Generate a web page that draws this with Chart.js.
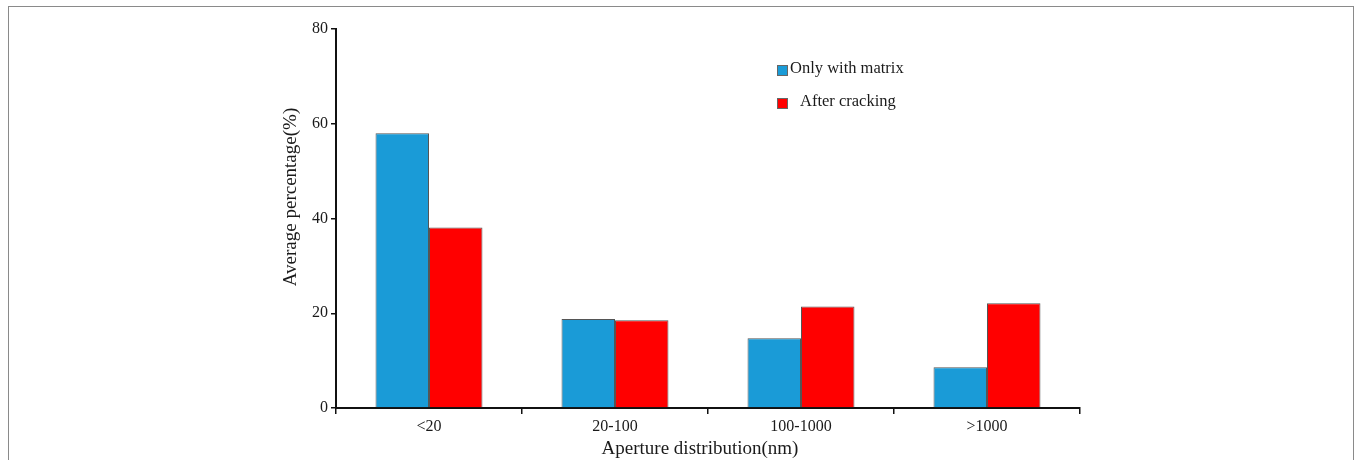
<!DOCTYPE html>
<html>
<head>
<meta charset="utf-8">
<script src="https://cdn.jsdelivr.net/npm/chart.js@4.4.0/dist/chart.umd.min.js"></script>
<style>
  html, body { margin: 0; padding: 0; background: #fff; }
  #wrap { position: relative; width: 1360px; height: 460px; overflow: hidden; }
  #frame { position: absolute; left: 8px; top: 6px; width: 1346px; height: 480px; border: 1.5px solid #8a8a8a; box-sizing: border-box; }
  canvas { position: absolute; left: 0; top: 0; }
</style>
</head>
<body>
<div id="wrap">
  <div id="frame"></div>
  <canvas id="c" width="1360" height="460"></canvas>
</div>
<script>
const categories = ['<20', '20-100', '100-1000', '>1000'];
const onlyWithMatrix = [58.0, 18.8, 14.7, 8.6];
const afterCracking = [38.1, 18.5, 21.4, 22.1];
const seriesNames = ['Only with matrix', 'After cracking'];
const yTicks = [0, 20, 40, 60, 80];
const xTitle = 'Aperture distribution(nm)';
const yTitle = 'Average percentage(%)';

const serif = '"Liberation Serif", "Times New Roman", serif';

const annotatePlugin = {
  id: 'customLegendTitles',
  afterDraw(chart) {
    const ctx = chart.ctx;
    const items = [
      { ds: chart.data.datasets[0], x: 777, y: 65, tx: 790, ty: 69 },
      { ds: chart.data.datasets[1], x: 777, y: 98, tx: 800, ty: 102 }
    ];
    ctx.save();
    ctx.font = '16.5px ' + serif;
    ctx.textBaseline = 'middle';
    ctx.textAlign = 'left';
    items.forEach(it => {
      ctx.fillStyle = it.ds.backgroundColor;
      ctx.fillRect(it.x, it.y, 10, 10);
      ctx.strokeStyle = '#666';
      ctx.lineWidth = 1;
      ctx.strokeRect(it.x + 0.5, it.y + 0.5, 10, 10);
      ctx.fillStyle = '#1a1a1a';
      ctx.fillText(it.ds.label, it.tx, it.ty);
    });
    // axis titles
    ctx.font = '19px ' + serif;
    ctx.fillStyle = '#1a1a1a';
    ctx.textAlign = 'center';
    ctx.textBaseline = 'middle';
    ctx.fillText(xTitle, 700, 449);
    ctx.translate(291, 197);
    ctx.rotate(-Math.PI / 2);
    ctx.fillText(yTitle, 0, 0);
    ctx.restore();
  }
};

new Chart(document.getElementById('c'), {
  type: 'bar',
  data: {
    labels: categories,
    datasets: [
      { label: seriesNames[0], data: onlyWithMatrix, backgroundColor: '#1A9BD7', borderColor: '#555', borderWidth: 1,
        categoryPercentage: 0.575, barPercentage: 1.0 },
      { label: seriesNames[1], data: afterCracking, backgroundColor: '#FF0000', borderColor: '#555', borderWidth: 1,
        categoryPercentage: 0.575, barPercentage: 1.0 }
    ]
  },
  options: {
    responsive: false,
    animation: false,
    devicePixelRatio: 1,
    layout: { padding: { left: 280, top: 29, right: 280, bottom: 0 } },
    plugins: {
      legend: { display: false },
      tooltip: { enabled: false }
    },
    scales: {
      x: {
        offset: true,
        grid: { display: true, drawOnChartArea: false, drawTicks: true, tickLength: 6, color: '#111', lineWidth: 1.5, offset: true },
        border: { display: true, color: '#111', width: 2 },
        ticks: { color: '#1a1a1a', font: { family: serif, size: 16 }, padding: 3, maxRotation: 0 },
        title: { display: false },
        afterFit(scale) { scale.height = 52; }
      },
      y: {
        min: 0, max: 80,
        afterBuildTicks(scale) { scale.ticks = yTicks.map(v => ({ value: v })); },
        grid: { display: true, drawOnChartArea: false, drawTicks: true, tickLength: 5, color: '#111', lineWidth: 1.5 },
        border: { display: true, color: '#111', width: 2 },
        ticks: { color: '#1a1a1a', font: { family: serif, size: 16 }, padding: 3 },
        title: { display: false },
        afterFit(scale) { scale.width = 56; }
      }
    }
  },
  plugins: [annotatePlugin]
});
</script>
</body>
</html>
